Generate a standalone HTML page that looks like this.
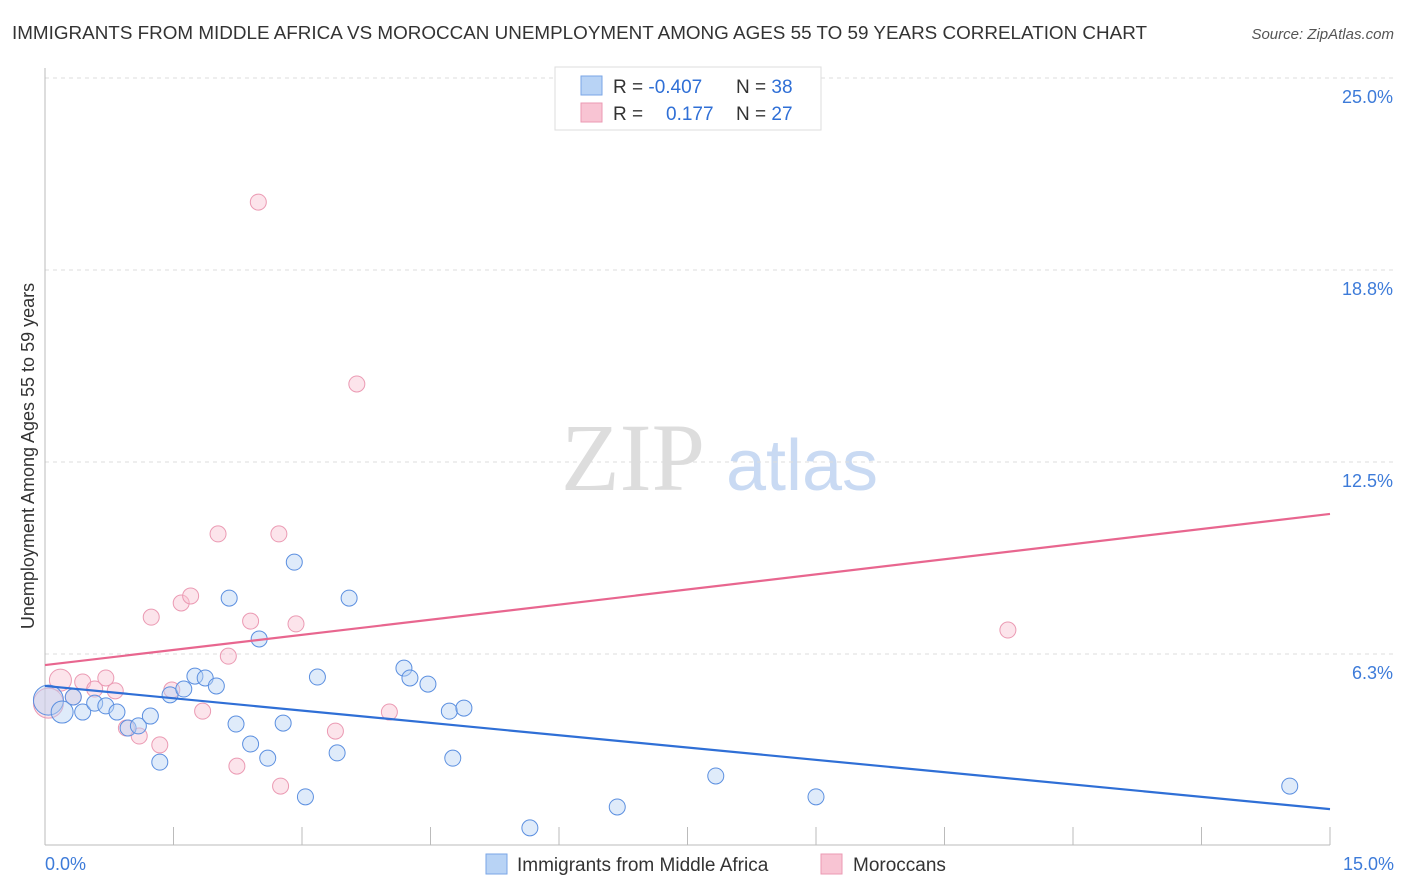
<!DOCTYPE html>
<html><head><meta charset="utf-8"><style>
body{margin:0;background:#fff;font-family:"Liberation Sans",sans-serif;}
svg{display:block}
</style></head><body>
<svg id="c" width="1406" height="892">
<text x="12" y="39" font-size="18" fill="#333" textLength="1135" lengthAdjust="spacingAndGlyphs">IMMIGRANTS FROM MIDDLE AFRICA VS MOROCCAN UNEMPLOYMENT AMONG AGES 55 TO 59 YEARS CORRELATION CHART</text>
<text x="1394" y="39" font-size="15" fill="#555" font-style="italic" text-anchor="end">Source: ZipAtlas.com</text>
<text x="633" y="490" font-size="96" fill="#ddd" font-family="Liberation Serif,serif" text-anchor="middle">ZIP</text>
<text x="802" y="490" font-size="72" fill="#c9daf3" text-anchor="middle">atlas</text>
<text transform="translate(34,456) rotate(-90)" font-size="18" fill="#333" text-anchor="middle">Unemployment Among Ages 55 to 59 years</text>
<g id="grid"></g><g id="axes"></g><g id="pts"></g><g id="trend"></g>
<g>
<rect x="555" y="67" width="266" height="63" fill="#fff" stroke="#ddd"/>
<rect x="581" y="76" width="21" height="19" fill="#b8d3f5" stroke="#7aa6e6"/>
<rect x="581" y="103" width="21" height="19" fill="#f8c4d3" stroke="#eb9ab3"/>
<text x="613" y="93" font-size="19" fill="#333">R = <tspan fill="#2f6fd6">-0.407</tspan></text>
<text x="736" y="93" font-size="19" fill="#333">N = <tspan fill="#2f6fd6">38</tspan></text>
<text x="613" y="120" font-size="19" fill="#333">R = </text><text x="666" y="120" font-size="19" fill="#2f6fd6">0.177</text>
<text x="736" y="120" font-size="19" fill="#333">N = <tspan fill="#2f6fd6">27</tspan></text>
</g>
<g>
<rect x="486" y="854" width="21" height="20" fill="#b8d3f5" stroke="#7aa6e6"/>
<text x="517" y="871" font-size="19" fill="#333">Immigrants from Middle Africa</text>
<rect x="821" y="854" width="21" height="20" fill="#f8c4d3" stroke="#eb9ab3"/>
<text x="853" y="871" font-size="19" fill="#333">Moroccans</text>
</g>
</svg>
<script>
const yTicks=[25.0,18.8,12.5,6.3];
const yTickVals=[25,18.75,12.5,6.25];
const xLabels=["0.0%","15.0%"];
const blueX=[0.04,0.20,0.33,0.44,0.58,0.71,0.84,0.97,1.09,1.23,1.34,1.46,1.62,1.75,1.87,2.00,2.15,2.23,2.40,2.50,2.60,2.78,2.91,3.04,3.18,3.41,3.55,4.19,4.26,4.47,4.72,4.76,4.89,5.66,6.68,7.83,9.00,14.53];
const blueY=[4.75,4.36,4.85,4.36,4.65,4.56,4.36,3.84,3.91,4.23,2.73,4.92,5.11,5.53,5.47,5.21,8.07,3.97,3.32,6.74,2.86,4.00,9.24,1.60,5.50,3.03,8.07,5.79,5.47,5.27,4.39,2.86,4.49,0.59,1.27,2.28,1.60,1.95];
const blueBig=[0,1];
const pinkX=[0.04,0.18,0.33,0.44,0.58,0.71,0.82,0.95,1.10,1.24,1.34,1.48,1.59,1.70,1.84,2.02,2.14,2.24,2.40,2.49,2.73,2.75,2.93,3.39,3.64,4.02,11.24];
const pinkY=[4.65,5.40,4.85,5.34,5.11,5.47,5.05,3.84,3.58,7.45,3.29,5.08,7.91,8.14,4.39,10.16,6.18,2.60,7.32,20.96,10.16,1.95,7.23,3.74,15.04,4.36,7.03];
const pinkBig=[0,1];
const blueTrend=[5.21,1.20];
const pinkTrend=[5.89,10.81];
const NS="http://www.w3.org/2000/svg";
const X0=45,X1=1330,Y0=846,YP=192/6.25;
function sx(v){return X0+(v/15)*(X1-X0);}
function sy(v){return Y0-v*YP;}
function mk(tag,parent,attrs){const e=document.createElementNS(NS,tag);for(const k in attrs)e.setAttribute(k,attrs[k]);document.getElementById(parent).appendChild(e);return e;}
yTickVals.forEach((v,i)=>{
 const l=mk('line','grid',{x1:45,x2:1395,y1:sy(v),y2:sy(v),stroke:'#ddd','stroke-dasharray':'4,4'});
 
 
 const t=mk('text','grid',{x:1393,y:sy(v)+25,'font-size':18,fill:'#3d7bd9','text-anchor':'end'});
 t.textContent=yTicks[i].toFixed(1)+'%';
 
 
});
let a=mk('line','axes',{x1:45,x2:45,y1:68,y2:845,stroke:'#bbb'});


a=mk('line','axes',{x1:45,x2:1330,y1:845,y2:845,stroke:'#bbb'});


for(let k=1;k<=10;k++){const t=mk('line','axes',{x1:sx(k*1.5),x2:sx(k*1.5),y1:827,y2:845,stroke:'#bbb'});
 
 }
[[0,'start',45],[1,'end',1394]].forEach(([i,anc,x])=>{const t=mk('text','axes',{x:x,y:870,'font-size':18,fill:'#3d7bd9','text-anchor':anc});t.textContent=xLabels[i];
 
 });
function pts(xs,ys,big,fill,stroke,name){xs.forEach((v,i)=>{const c=mk('circle','pts',{cx:sx(v),cy:sy(ys[i]),r:big.includes(i)?(i==0?15:11):8,fill:fill,'fill-opacity':0.45,stroke:stroke,'stroke-width':1});
 
 });}
pts(pinkX,pinkY,pinkBig,'#f8c4d3','#eb9ab3','point-moroccans');
pts(blueX,blueY,blueBig,'#b8d3f5','#5b8fe0','point-middle-africa');
let tl=mk('line','trend',{x1:sx(0),y1:sy(blueTrend[0]),x2:sx(15),y2:sy(blueTrend[1]),stroke:'#2f6fd6','stroke-width':2.2});


tl=mk('line','trend',{x1:sx(0),y1:sy(pinkTrend[0]),x2:sx(15),y2:sy(pinkTrend[1]),stroke:'#e8668f','stroke-width':2.2});


</script>
</body></html>
